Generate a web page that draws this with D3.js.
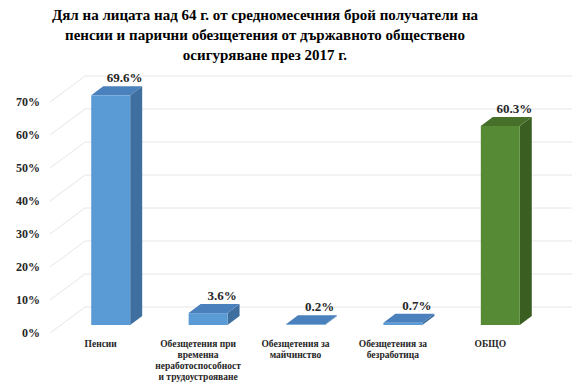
<!DOCTYPE html>
<html>
<head>
<meta charset="utf-8">
<script src="https://cdn.jsdelivr.net/npm/d3@7"></script>
<style>
  body { margin: 0; background: #fff; }
  svg text { font-family: "Liberation Serif", "Times New Roman", serif; font-weight: bold; }
</style>
</head>
<body>
<script>
var svgWidth = 581;
var svgHeight = 390;
var serif = "'Liberation Serif', 'Times New Roman', serif";

var titleLines = [
  "Дял на лицата над 64 г. от средномесечния брой получатели на",
  "пенсии и парични обезщетения от държавното обществено",
  "осигуряване през 2017 г."
];
var categories = [
  ["Пенсии"],
  ["Обезщетения при", "временна", "неработоспособност", "и трудоустрояване"],
  ["Обезщетения за", "майчинство"],
  ["Обезщетения за", "безработица"],
  ["ОБЩО"]
];
var values = [69.6, 3.6, 0.2, 0.7, 60.3];
var tickValues = [0, 10, 20, 30, 40, 50, 60, 70];

// 3d depth of bars and walls
var depth = { dx: 12, dy: -9 };
var wallShift = { dx: 35, dy: -26 };

var svg = d3.select("body")
  .append("svg")
  .attr("width", svgWidth)
  .attr("height", svgHeight);

svg.append("g")
  .selectAll("text")
  .data(titleLines)
  .enter()
  .append("text")
  .attr("x", 265)
  .attr("y", (d, i) => 20 + i * 20)
  .attr("text-anchor", "middle")
  .style("font-family", serif)
  .style("font-weight", "bold")
  .style("font-size", "15px")
  .attr("fill", "#000")
  .text(d => d);

var xScale = d3.scaleBand()
  .domain(d3.range(categories.length))
  .range([62, 549])
  .paddingInner(0.6)
  .paddingOuter(0.3);

// front of bars
var yScale = d3.scaleLinear()
  .domain([0, 70])
  .range([325, 94]);

// front edge of floor, where the tick labels sit
var yFront = d3.scaleLinear()
  .domain([0, 70])
  .range([333, 102]);

var grid = svg.append("g");
var wallLeft = 50;
tickValues.forEach(function(v) {
  var y0 = yFront(v);
  grid.append("line")
    .attr("x1", wallLeft)
    .attr("y1", y0)
    .attr("x2", wallLeft + wallShift.dx)
    .attr("y2", y0 + wallShift.dy)
    .attr("stroke", "#e6e6e6")
    .attr("stroke-width", 1);
  grid.append("line")
    .attr("x1", wallLeft + wallShift.dx)
    .attr("y1", y0 + wallShift.dy)
    .attr("x2", 572)
    .attr("y2", y0 + wallShift.dy)
    .attr("stroke", "#e6e6e6")
    .attr("stroke-width", 1);
});

var leftAxis = d3.axisLeft(yFront)
  .tickValues(tickValues)
  .tickFormat(d => d + "%")
  .tickSize(0)
  .tickPadding(0);

var axisG = svg.append("g")
  .attr("transform", "translate(40, 0)")
  .call(leftAxis)
  .attr("font-family", null);
axisG.select(".domain").remove();
axisG.selectAll("text")
  .style("font-family", serif)
  .style("font-weight", "bold")
  .style("font-size", "12px")
  .attr("fill", "#262626");

var colors = [
  { front: "#5b9bd5", side: "#3f6f9f", top: "#4a80bb" },
  { front: "#5b9bd5", side: "#3f6f9f", top: "#4a80bb" },
  { front: "#5b9bd5", side: "#3f6f9f", top: "#4a80bb" },
  { front: "#5b9bd5", side: "#3f6f9f", top: "#4a80bb" },
  { front: "#578a34", side: "#3a5e22", top: "#466f29" }
];

var bars = svg.append("g")
  .selectAll("g")
  .data(values)
  .enter()
  .append("g");

bars.append("path")
  .attr("fill", (d, i) => colors[i].side)
  .attr("d", function(d, i) {
    var x = xScale(i) + xScale.bandwidth();
    var top = yScale(d), bot = yScale(0);
    return "M" + x + "," + top + "L" + (x + depth.dx) + "," + (top + depth.dy) +
      "L" + (x + depth.dx) + "," + (bot + depth.dy) + "L" + x + "," + bot + "Z";
  });

bars.append("path")
  .attr("fill", (d, i) => colors[i].top)
  .attr("d", function(d, i) {
    var x = xScale(i), w = xScale.bandwidth();
    var top = yScale(d);
    return "M" + x + "," + top + "L" + (x + depth.dx) + "," + (top + depth.dy) +
      "L" + (x + w + depth.dx) + "," + (top + depth.dy) + "L" + (x + w) + "," + top + "Z";
  });

bars.append("rect")
  .attr("x", (d, i) => xScale(i))
  .attr("y", d => yScale(d))
  .attr("width", xScale.bandwidth())
  .attr("height", d => yScale(0) - yScale(d))
  .attr("fill", (d, i) => colors[i].front);

bars.append("text")
  .attr("x", (d, i) => xScale(i) + xScale.bandwidth() / 2 + 14)
  .attr("y", d => yScale(d) - 13)
  .attr("text-anchor", "middle")
  .style("font-family", serif)
  .style("font-weight", "bold")
  .style("font-size", "13px")
  .attr("fill", "#262626")
  .text(d => d.toFixed(1) + "%");

var catG = svg.append("g")
  .selectAll("text")
  .data(categories)
  .enter()
  .append("text")
  .attr("text-anchor", "middle")
  .style("font-family", serif)
  .style("font-weight", "bold")
  .style("font-size", "9.5px")
  .attr("fill", "#262626");

catG.selectAll("tspan")
  .data((d, i) => d.map(line => ({ line: line, i: i })))
  .enter()
  .append("tspan")
  .attr("x", d => xScale(d.i) + xScale.bandwidth() / 2 - 10)
  .attr("y", (d, j) => 347 + j * 11)
  .text(d => d.line);
</script>
</body>
</html>
